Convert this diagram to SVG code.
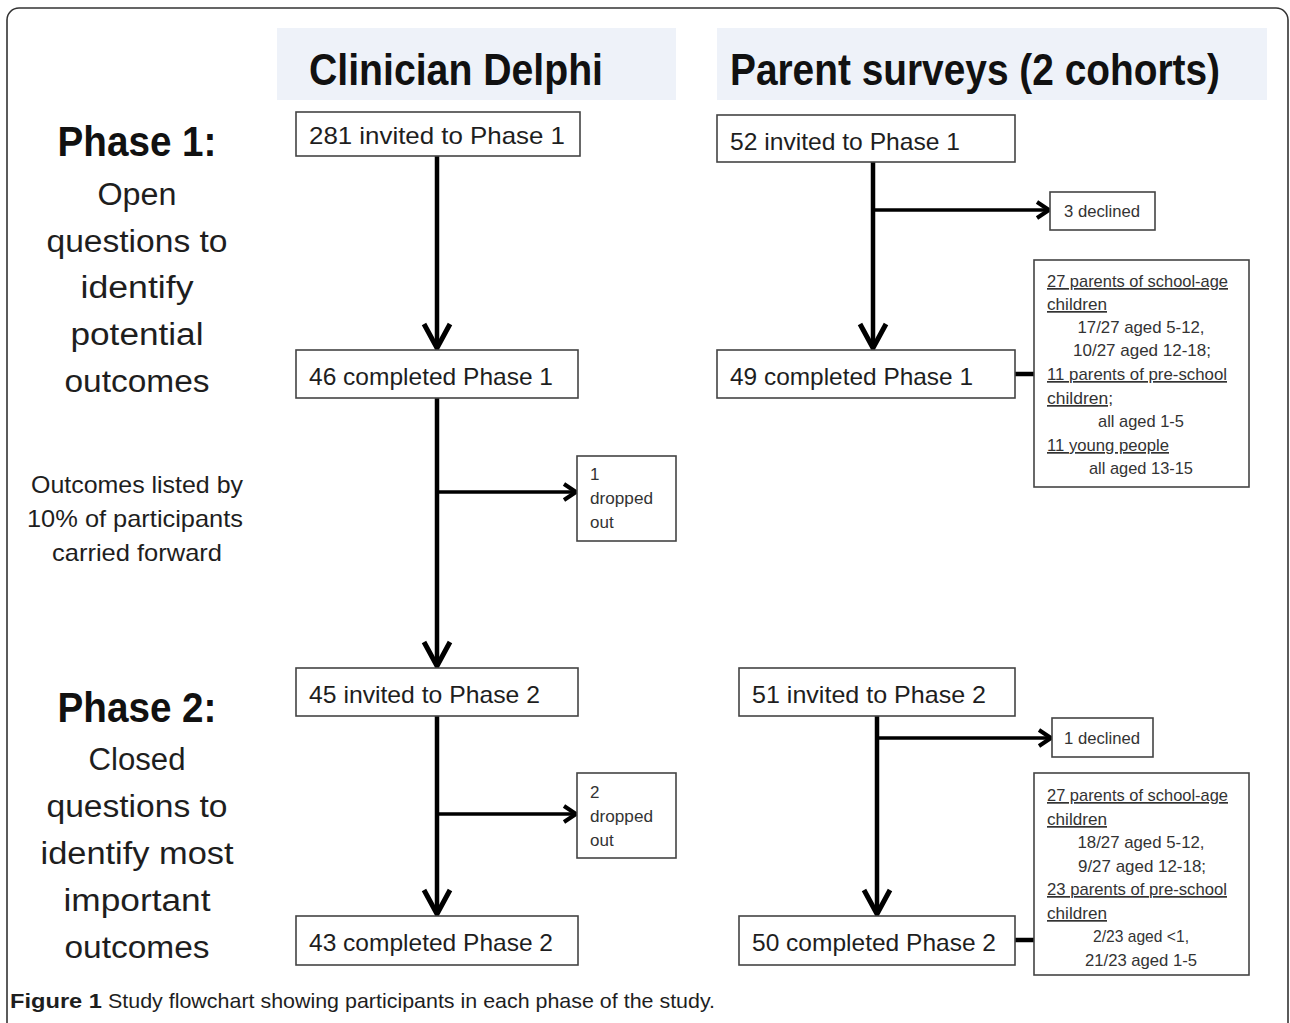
<svg xmlns="http://www.w3.org/2000/svg" width="1290" height="1023" viewBox="0 0 1290 1023">
<defs>
<style>
.t{font-family:"Liberation Sans",Arial,sans-serif;fill:#1e1e1e}
.hd{font-size:44px;font-weight:bold;fill:#111}
.ph{font-size:42px;font-weight:bold;fill:#111;text-anchor:middle}
.lbl{font-size:31px;text-anchor:middle}
.mid{font-size:24px;text-anchor:middle}
.bx{font-size:24px}
.sm{font-size:17px;fill:#333}
.smc{font-size:17px;fill:#333;text-anchor:middle}
.u{text-decoration:underline}
.box{fill:#fff;stroke:#444;stroke-width:1.6}
.hbg{fill:#eef2f9}
.ln{stroke:#000;stroke-width:4.5;fill:none}
.lnh{stroke:#000;stroke-width:3.5;fill:none}
</style>
<marker id="ah" markerUnits="userSpaceOnUse" markerWidth="34" markerHeight="34" viewBox="0 0 34 34" refX="30" refY="17" orient="auto">
<path d="M6,4 L30,17 L6,30" fill="none" stroke="#000" stroke-width="5"/>
</marker>
<marker id="as" markerUnits="userSpaceOnUse" markerWidth="24" markerHeight="24" viewBox="0 0 24 24" refX="21" refY="12" orient="auto">
<path d="M9,4 L21,12 L9,20" fill="none" stroke="#000" stroke-width="4"/>
</marker>
</defs>
<rect x="0" y="0" width="1290" height="1023" fill="#fff"/>
<rect x="7" y="8" width="1281" height="1040" rx="12" fill="none" stroke="#333" stroke-width="1.6"/>

<g id="headers">
<rect class="hbg" x="277" y="28" width="399" height="72"/>
<text class="t hd" x="309" y="85" textLength="294" lengthAdjust="spacingAndGlyphs">Clinician Delphi</text>
<rect class="hbg" x="717" y="28" width="550" height="72"/>
<text class="t hd" x="730" y="85" textLength="490" lengthAdjust="spacingAndGlyphs">Parent surveys (2 cohorts)</text>
</g>

<g id="phase-labels">
<text class="t ph" x="137" y="156" textLength="159" lengthAdjust="spacingAndGlyphs">Phase 1:</text>
<text class="t lbl" x="137" y="205" textLength="79" lengthAdjust="spacingAndGlyphs">Open</text>
<text class="t lbl" x="137" y="252" textLength="181" lengthAdjust="spacingAndGlyphs">questions to</text>
<text class="t lbl" x="137" y="298" textLength="113" lengthAdjust="spacingAndGlyphs">identify</text>
<text class="t lbl" x="137" y="345" textLength="133" lengthAdjust="spacingAndGlyphs">potential</text>
<text class="t lbl" x="137" y="392" textLength="145" lengthAdjust="spacingAndGlyphs">outcomes</text>
<text class="t mid" x="137" y="493" textLength="212" lengthAdjust="spacingAndGlyphs">Outcomes listed by</text>
<text class="t mid" x="135" y="527" textLength="216" lengthAdjust="spacingAndGlyphs">10% of participants</text>
<text class="t mid" x="137" y="561" textLength="170" lengthAdjust="spacingAndGlyphs">carried forward</text>
<text class="t ph" x="137" y="722" textLength="159" lengthAdjust="spacingAndGlyphs">Phase 2:</text>
<text class="t lbl" x="137" y="770" textLength="97" lengthAdjust="spacingAndGlyphs">Closed</text>
<text class="t lbl" x="137" y="817" textLength="181" lengthAdjust="spacingAndGlyphs">questions to</text>
<text class="t lbl" x="137" y="864" textLength="193" lengthAdjust="spacingAndGlyphs">identify most</text>
<text class="t lbl" x="137" y="911" textLength="147" lengthAdjust="spacingAndGlyphs">important</text>
<text class="t lbl" x="137" y="958" textLength="145" lengthAdjust="spacingAndGlyphs">outcomes</text>
</g>

<g id="connectors">
<line class="ln" x1="437" y1="156" x2="437" y2="348" marker-end="url(#ah)"/>
<line class="ln" x1="437" y1="398" x2="437" y2="666" marker-end="url(#ah)"/>
<line class="lnh" x1="437" y1="492" x2="576" y2="492" marker-end="url(#as)"/>
<line class="ln" x1="437" y1="716" x2="437" y2="914" marker-end="url(#ah)"/>
<line class="lnh" x1="437" y1="814" x2="576" y2="814" marker-end="url(#as)"/>
<line class="ln" x1="873" y1="162" x2="873" y2="348" marker-end="url(#ah)"/>
<line class="lnh" x1="873" y1="210" x2="1049" y2="210" marker-end="url(#as)"/>
<line class="ln" x1="877" y1="716" x2="877" y2="914" marker-end="url(#ah)"/>
<line class="lnh" x1="877" y1="738" x2="1051" y2="738" marker-end="url(#as)"/>
<line class="ln" x1="1015" y1="374" x2="1034" y2="374" stroke-width="5"/>
<line class="ln" x1="1015" y1="940" x2="1034" y2="940" stroke-width="5"/>
</g>

<g id="n281">
<rect class="box" x="296" y="112" width="284" height="44"/>
<text class="t bx" x="309" y="144" textLength="256" lengthAdjust="spacingAndGlyphs">281 invited to Phase 1</text>
</g>
<g id="n46">
<rect class="box" x="296" y="350" width="282" height="48"/>
<text class="t bx" x="309" y="385" textLength="244" lengthAdjust="spacingAndGlyphs">46 completed Phase 1</text>
</g>
<g id="drop1">
<rect class="box" x="577" y="456" width="99" height="85"/>
<text class="t sm" x="590" y="480">1</text>
<text class="t sm" x="590" y="504" textLength="63" lengthAdjust="spacingAndGlyphs">dropped</text>
<text class="t sm" x="590" y="528">out</text>
</g>
<g id="n45">
<rect class="box" x="296" y="668" width="282" height="48"/>
<text class="t bx" x="309" y="703" textLength="231" lengthAdjust="spacingAndGlyphs">45 invited to Phase 2</text>
</g>
<g id="drop2">
<rect class="box" x="577" y="773" width="99" height="85"/>
<text class="t sm" x="590" y="798">2</text>
<text class="t sm" x="590" y="822" textLength="63" lengthAdjust="spacingAndGlyphs">dropped</text>
<text class="t sm" x="590" y="846">out</text>
</g>
<g id="n43">
<rect class="box" x="296" y="916" width="282" height="49"/>
<text class="t bx" x="309" y="951" textLength="244" lengthAdjust="spacingAndGlyphs">43 completed Phase 2</text>
</g>

<g id="n52">
<rect class="box" x="717" y="115" width="298" height="47"/>
<text class="t bx" x="730" y="150" textLength="230" lengthAdjust="spacingAndGlyphs">52 invited to Phase 1</text>
</g>
<g id="dec3">
<rect class="box" x="1050" y="192" width="105" height="38"/>
<text class="t smc" x="1102" y="217" textLength="76" lengthAdjust="spacingAndGlyphs">3 declined</text>
</g>
<g id="n49">
<rect class="box" x="717" y="350" width="298" height="48"/>
<text class="t bx" x="730" y="385" textLength="243" lengthAdjust="spacingAndGlyphs">49 completed Phase 1</text>
</g>
<g id="detail1">
<rect class="box" x="1034" y="260" width="215" height="227"/>
<text class="t sm u" x="1047" y="287" textLength="181" lengthAdjust="spacingAndGlyphs">27 parents of school-age</text>
<text class="t sm u" x="1047" y="310" textLength="60" lengthAdjust="spacingAndGlyphs">children</text>
<text class="t smc" x="1141" y="333" textLength="127" lengthAdjust="spacingAndGlyphs">17/27 aged 5-12,</text>
<text class="t smc" x="1142" y="356" textLength="138" lengthAdjust="spacingAndGlyphs">10/27 aged 12-18;</text>
<text class="t sm u" x="1047" y="380" textLength="180" lengthAdjust="spacingAndGlyphs">11 parents of pre-school</text>
<text class="t sm u" x="1047" y="404" textLength="66" lengthAdjust="spacingAndGlyphs">children;</text>
<text class="t smc" x="1141" y="427" textLength="86" lengthAdjust="spacingAndGlyphs">all aged 1-5</text>
<text class="t sm u" x="1047" y="451" textLength="122" lengthAdjust="spacingAndGlyphs">11 young people</text>
<text class="t smc" x="1141" y="474" textLength="104" lengthAdjust="spacingAndGlyphs">all aged 13-15</text>
</g>

<g id="n51">
<rect class="box" x="739" y="668" width="276" height="48"/>
<text class="t bx" x="752" y="703" textLength="234" lengthAdjust="spacingAndGlyphs">51 invited to Phase 2</text>
</g>
<g id="dec1">
<rect class="box" x="1052" y="718" width="101" height="39"/>
<text class="t smc" x="1102" y="744" textLength="76" lengthAdjust="spacingAndGlyphs">1 declined</text>
</g>
<g id="n50">
<rect class="box" x="739" y="916" width="276" height="49"/>
<text class="t bx" x="752" y="951" textLength="244" lengthAdjust="spacingAndGlyphs">50 completed Phase 2</text>
</g>
<g id="detail2">
<rect class="box" x="1034" y="773" width="215" height="202"/>
<text class="t sm u" x="1047" y="801" textLength="181" lengthAdjust="spacingAndGlyphs">27 parents of school-age</text>
<text class="t sm u" x="1047" y="825" textLength="60" lengthAdjust="spacingAndGlyphs">children</text>
<text class="t smc" x="1141" y="848" textLength="127" lengthAdjust="spacingAndGlyphs">18/27 aged 5-12,</text>
<text class="t smc" x="1142" y="872" textLength="128" lengthAdjust="spacingAndGlyphs">9/27 aged 12-18;</text>
<text class="t sm u" x="1047" y="895" textLength="180" lengthAdjust="spacingAndGlyphs">23 parents of pre-school</text>
<text class="t sm u" x="1047" y="919" textLength="60" lengthAdjust="spacingAndGlyphs">children</text>
<text class="t smc" x="1141" y="942" textLength="96" lengthAdjust="spacingAndGlyphs">2/23 aged &lt;1,</text>
<text class="t smc" x="1141" y="966" textLength="112" lengthAdjust="spacingAndGlyphs">21/23 aged 1-5</text>
</g>

<g id="caption">
<text class="t" x="10" y="1008" font-size="21" fill="#111"><tspan font-weight="bold" textLength="92" lengthAdjust="spacingAndGlyphs">Figure 1</tspan><tspan x="108" textLength="607" lengthAdjust="spacingAndGlyphs">Study flowchart showing participants in each phase of the study.</tspan></text>
</g>
</svg>
